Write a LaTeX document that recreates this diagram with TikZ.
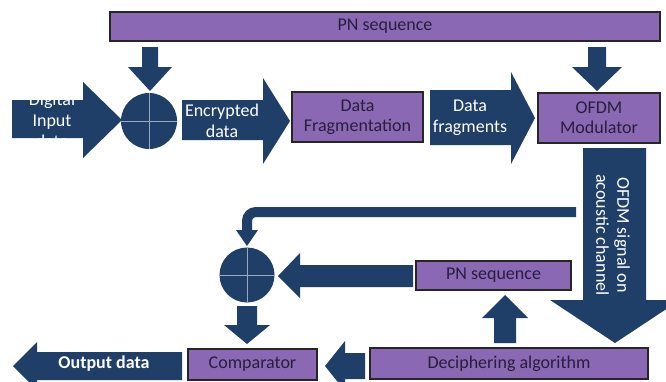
\documentclass[tikz,border=0pt]{standalone}
\usepackage{fontspec}
\setmainfont{Carlito}
\definecolor{navy}{RGB}{31,62,104}
\definecolor{purp}{RGB}{138,104,180}
\definecolor{ink}{RGB}{40,30,60}
\begin{document}
\begin{tikzpicture}[x=1pt,y=-1pt,
  box/.style={draw=black!85, line width=1.2pt, fill=purp, text=ink, font=\fontsize{18}{20}\selectfont, align=center, inner sep=0pt},
  barrow/.style={fill=navy},
  wtext/.style={text=white, font=\fontsize{18}{21}\selectfont, align=center, inner sep=0pt},
  xorc/.style={circle, fill=navy, minimum size=56pt, inner sep=0pt},
  cross/.style={draw=white!55!navy, line width=0.7pt}]
\clip (0,0) rectangle (666,381);
\fill[white] (0,0) rectangle (666,381);

% boxes
\node[box, minimum width=550pt, minimum height=29pt] (pn1) at (385,26.5) {PN sequence};
\node[box, minimum width=131pt, minimum height=50pt] (frag) at (357.5,117) {Data\\Fragmentation};
\node[box, minimum width=122pt, minimum height=50pt] (mod) at (599,118) {OFDM\\Modulator};
\node[box, minimum width=155pt, minimum height=29pt] (pn2) at (493.5,275.5) {PN sequence};
\node[box, minimum width=278pt, minimum height=31pt] (dec) at (509,363.5) {Deciphering algorithm};
\node[box, minimum width=129pt, minimum height=31pt] (cmp) at (252.5,364.5) {Comparator};

% xor circles
\node[xorc] (c1) at (149,121) {};
\draw[cross] (c1.north) -- (c1.south) (c1.west) -- (c1.east);
\node[xorc, minimum size=55pt] (c2) at (247,275) {};
\draw[cross] (c2.north) -- (c2.south) (c2.west) -- (c2.east);

% block arrows (top row)
\fill[barrow] (12,100) -- (83,100) -- (83,82) -- (122,120) -- (83,158) -- (83,138) -- (12,138) -- cycle;
\node[wtext] (din) at (52,120) {Digital\\Input\\data};
\fill[barrow] (142,47) -- (158,47) -- (158,67) -- (172,67) -- (150,91) -- (128,67) -- (142,67) -- cycle;
\fill[barrow] (182,100) -- (263,100) -- (263,78) -- (290,121) -- (263,164) -- (263,140) -- (182,140) -- cycle;
\node[wtext] (enc) at (222,121) {Encrypted\\data};
\fill[barrow] (430,90) -- (511,90) -- (511,72) -- (535,118) -- (511,164) -- (511,145) -- (430,145) -- cycle;
\node[wtext] (dfr) at (470,118) {Data\\fragments};
\fill[barrow] (588,47) -- (606,47) -- (606,67) -- (622,67) -- (597,91) -- (572,67) -- (588,67) -- cycle;

% OFDM signal arrow
\fill[barrow] (583,148) -- (646,148) -- (646,300) -- (680,300) -- (615,343) -- (550,300) -- (583,300) -- cycle;
\node[wtext, rotate=-90] (sig) at (613,235) {OFDM signal on\\acoustic channel};

% feedback line
\coordinate (fb) at (576,212);
\draw[navy, line width=10pt, rounded corners=9pt] (fb) -- (247,212) -- (247,231);
\fill[barrow] (236,230) -- (258,230) -- (247,246) -- cycle;

% lower arrows
\fill[barrow] (413,265) -- (300,265) -- (300,253) -- (278,276) -- (300,298) -- (300,287) -- (413,287) -- cycle;
\fill[barrow] (494,343) -- (494,318) -- (482,318) -- (505,295) -- (528,318) -- (516,318) -- (516,343) -- cycle;
\fill[barrow] (237,306) -- (257,306) -- (257,325) -- (270,325) -- (247,344) -- (224,325) -- (237,325) -- cycle;
\fill[barrow] (365,353) -- (345,353) -- (345,341) -- (325,366) -- (345,391) -- (345,379) -- (365,379) -- cycle;
\fill[barrow] (182,352) -- (37,352) -- (37,342) -- (13,366) -- (37,390) -- (37,380) -- (182,380) -- cycle;
\node[wtext, font=\fontsize{18}{21}\selectfont\bfseries] (out) at (104,364) {Output data};
\end{tikzpicture}
\end{document}
